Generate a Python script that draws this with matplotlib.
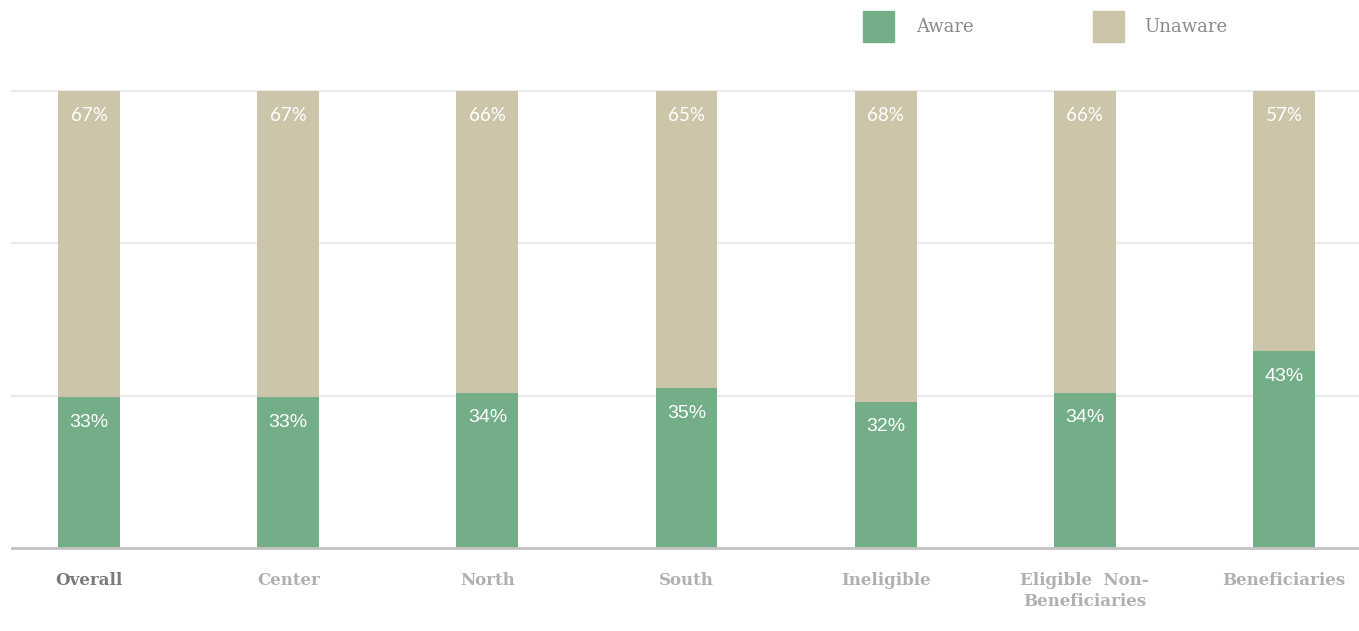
import matplotlib.pyplot as plt
import numpy as np

categories = ["Overall", "Center", "North", "South", "Ineligible",
              "Eligible  Non-\nBeneficiaries", "Beneficiaries"]
aware = [33, 33, 34, 35, 32, 34, 43]
unaware = [67, 67, 66, 65, 68, 66, 57]

GREEN = "#74ae88"
TAN = "#cdc5a9"

fig = plt.figure(figsize=(13.59, 6.31), dpi=100)
ax = fig.add_axes([12 / 1359, 83 / 631, 1347 / 1359, 457 / 631])

x = np.arange(len(categories))
w = 0.311
ax.bar(x, aware, width=w, color=GREEN, zorder=3)
ax.bar(x, unaware, width=w, bottom=aware, color=TAN, zorder=3)

ax.set_xlim(-0.387, 6.377)
ax.set_ylim(0, 100)
for g in [100 / 3, 200 / 3, 100]:
    ax.axhline(g, color="#ebebeb", lw=1.6, zorder=1, clip_on=False)
ax.axhline(0, color="#c2c2c2", lw=2.0, zorder=4, clip_on=False)

for s in ax.spines.values():
    s.set_visible(False)
ax.set_yticks([])
ax.set_xticks(x)
ax.set_xticklabels(categories, fontfamily="DejaVu Serif", fontweight="bold",
                   fontsize=12, linespacing=1.3)
ax.tick_params(axis="x", length=0, pad=17)
for i, lbl in enumerate(ax.get_xticklabels()):
    lbl.set_color("#7a7a7a" if i == 0 else "#b0b0b0")
    lbl.set_verticalalignment("top")

for i in range(len(categories)):
    a, u = aware[i], unaware[i]
    ax.annotate(f"{a}%", (x[i], a), xytext=(0, -18), textcoords="offset points",
                ha="center", va="center", color="white", fontsize=14,
                fontfamily="Liberation Sans", zorder=5)
    ax.annotate(f"{u}%", (x[i], a + u), xytext=(0, -17.5), textcoords="offset points",
                ha="center", va="center", color="white", fontsize=13.5,
                fontfamily="Lato", zorder=5)

# legend drawn as figure patches and labels
for x0, color, label, tx in [(863, GREEN, "Aware", 916), (1093, TAN, "Unaware", 1144)]:
    fig.patches.append(plt.Rectangle((x0 / 1359, 1 - 42 / 631), 31 / 1359, 31 / 631,
                                     transform=fig.transFigure, color=color))
    fig.text(tx / 1359, 1 - 27 / 631, label, ha="left", va="center",
             fontfamily="DejaVu Serif", fontsize=13, color="#8a8a8a")

fig.savefig("out.png", dpi=100)
